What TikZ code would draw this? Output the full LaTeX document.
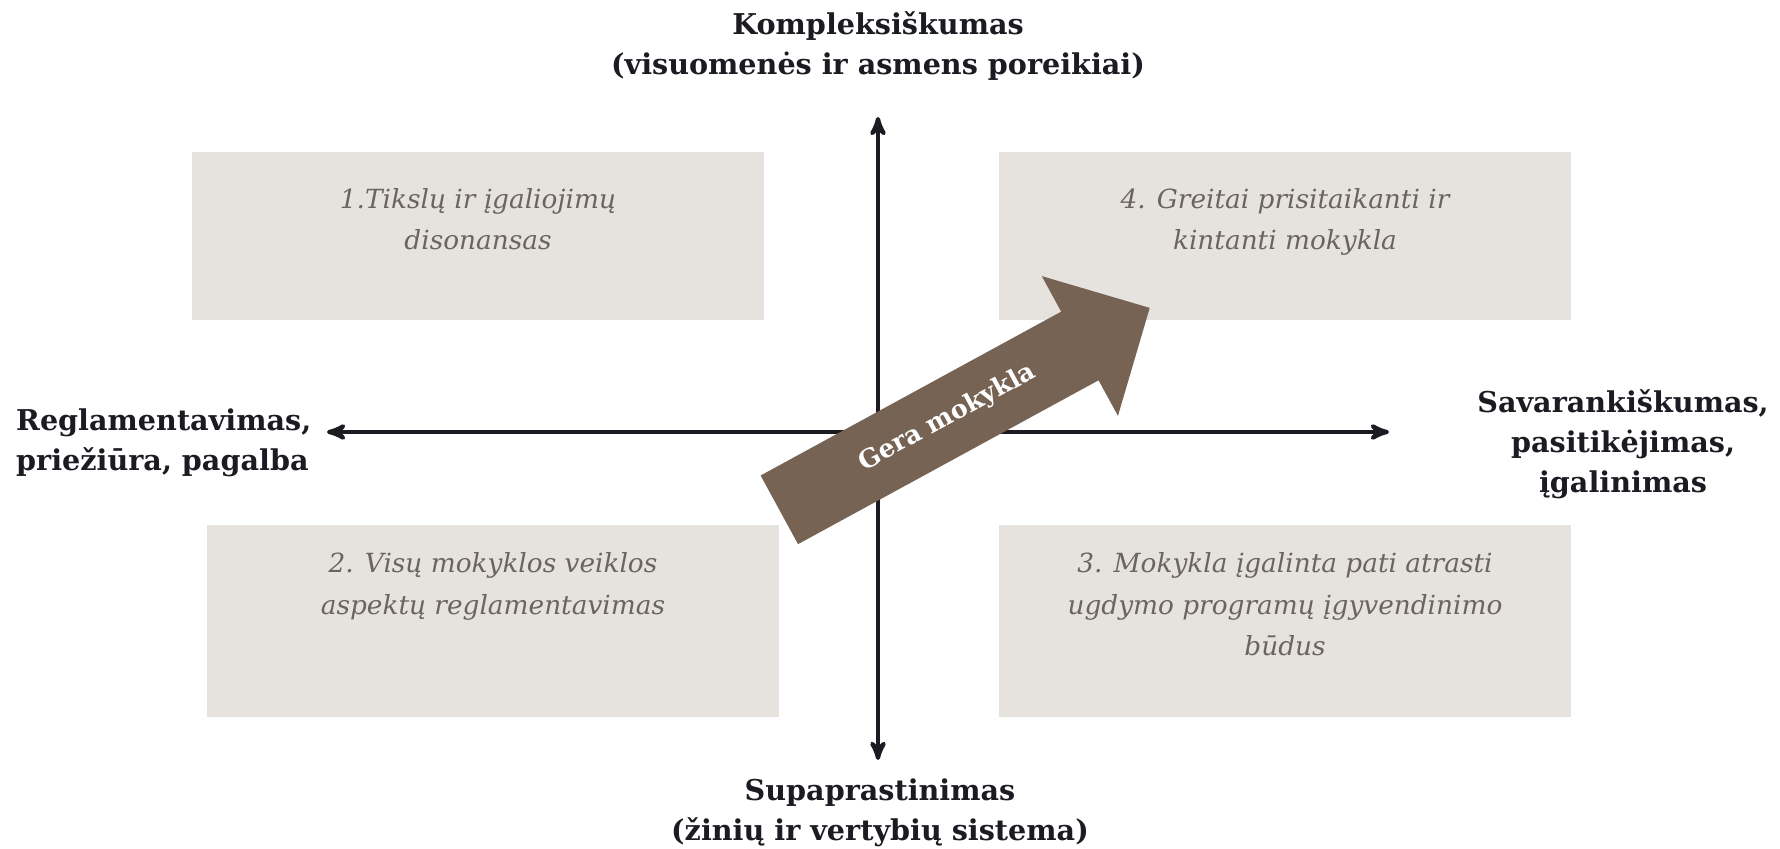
\documentclass[tikz,border=0pt]{standalone}
\usepackage{fontspec}
\setmainfont{DejaVu Serif}
\usetikzlibrary{arrows,positioning,shapes.arrows}
\definecolor{boxgray}{HTML}{E6E3DF}
\definecolor{textgray}{HTML}{6B6461}
\definecolor{arrowbrown}{HTML}{766353}
\definecolor{headblack}{HTML}{1E1A22}

\begin{document}
\begin{tikzpicture}[x=0.02cm,y=-0.02cm,>=stealth',node distance=0.62cm]
    \useasboundingbox (0,0) rectangle (1780,848);

    \tikzset{quad/.style={rectangle,fill=boxgray,minimum width=11.44cm,inner sep=0pt}}
    \tikzset{quadtext/.style={text=textgray,font=\itshape\fontsize{15}{23.5}\selectfont,align=center}}
    \tikzset{pole/.style={text=headblack,font=\bfseries\fontsize{16.3}{22.8}\selectfont}}
    \tikzset{axis/.style={<->,line width=2.4pt,headblack}}
    \tikzset{gera/.style={single arrow,fill=arrowbrown,text=white,
        font=\bfseries\fontsize{14.5}{16}\selectfont,minimum height=8.44cm,
        text height=11pt,text depth=3.5pt,inner ysep=14.8pt,inner xsep=0pt,
        single arrow head extend=0.81cm,single arrow head indent=0pt}}

    % quadrants
    \node[quad,minimum height=3.38cm] (Q1) at (478,236) {};
    \node[quad,minimum height=3.86cm] (Q2) at (493,621) {};
    \node[quad,minimum height=3.86cm] (Q3) at (1285,621) {};
    \node[quad,minimum height=3.38cm] (Q4) at (1285,236) {};

    \node[quadtext] (T1) [below =of Q1.north] {1.Tikslų ir įgaliojimų\\disonansas};
    \node[quadtext] (T2) [below =0.45cm of Q2.north] {2. Visų mokyklos veiklos\\aspektų reglamentavimas};
    \node[quadtext] (T3) [below =0.45cm of Q3.north] {3. Mokykla įgalinta pati atrasti\\ugdymo programų įgyvendinimo\\būdus};
    \node[quadtext] (T4) [below =of Q4.north] {4. Greitai prisitaikanti ir\\kintanti mokykla};

    % axes
    \coordinate (AN) at (878,117);
    \coordinate (AS) at (878,760);
    \coordinate (AW) at (327,432);
    \coordinate (AE) at (1389,432);
    \draw[axis] (AN) -- (AS);
    \draw[axis] (AW) -- (AE);

    \node[pole,align=center] (K) at (878,46) {Kompleksiškumas\\(visuomenės ir asmens poreikiai)};
    \node[pole,align=center] (S) at (880,813) {Supaprastinimas\\(žinių ir vertybių sistema)};
    \node[pole,align=left,anchor=west] (R) at (10,443) {Reglamentavimas,\\priežiūra, pagalba};
    \node[pole,align=center] (V) at (1623,444) {Savarankiškumas,\\pasitikėjimas,\\įgalinimas};

    % the big arrow
    \node[gera,rotate=28.6,anchor=tail] (G) at (779,510) {Gera mokykla};
\end{tikzpicture}
\end{document}
